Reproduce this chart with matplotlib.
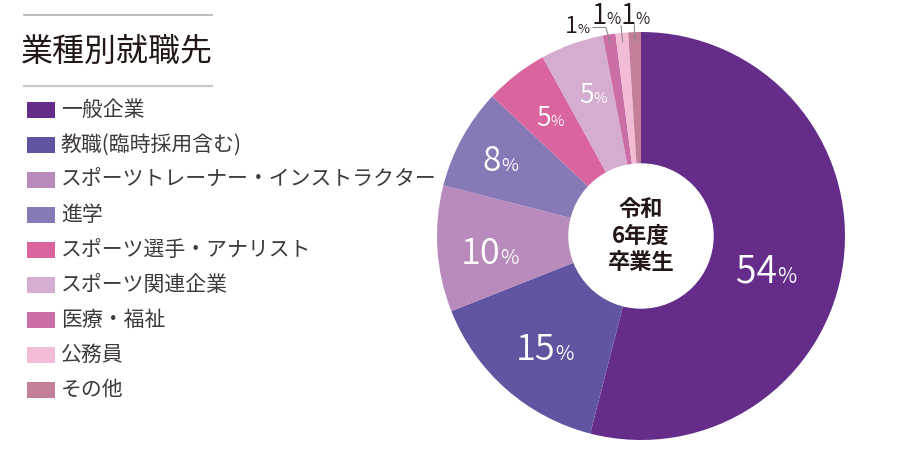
import numpy as np
import matplotlib
matplotlib.use("Agg")
from matplotlib import pyplot as plt
from matplotlib import patches
from matplotlib.offsetbox import TextArea, HPacker, AnnotationBbox

plt.rcParams['font.family'] = ['Noto Sans CJK JP', 'DejaVu Sans']

title = "業種別就職先"
center_text = "令和\n6年度\n卒業生"
categories = ["一般企業", "教職(臨時採用含む)", "スポーツトレーナー・インストラクター", "進学",
              "スポーツ選手・アナリスト", "スポーツ関連企業", "医療・福祉", "公務員", "その他"]
values = [54, 15, 10, 8, 5, 5, 1, 1, 1]
colors = ["#652d89", "#6155a1", "#b88bbc", "#8778b6", "#d9649e",
          "#d4add0", "#cc6ea6", "#f3bcd6", "#c37e9a"]

# label placement inside the pie: radius fraction, angle nudge (deg), number size
inside = {0: (0.64, -9, 27), 1: (0.73, 1, 26), 2: (0.745, 3, 26),
          3: (0.78, 1, 24), 4: (0.73, 0, 19), 5: (0.73, -1, 19)}
# small slices get outside labels with leader lines: radius, angle nudge, leader top
outside = {6: (1.075, 8.0, 1.035), 7: (1.091, 3.6, 1.035), 8: (1.079, -0.2, 1.035)}

W, H = 914, 450
fig = plt.figure(figsize=(W / 100, H / 100), dpi=100)

# pie axes: centre (641, 236) px, radius 204 px
cx, cy, R = 641, 236, 204
lim = 1.15
half = R * lim
ax = fig.add_axes([(cx - half) / W, (H - cy - half) / H, 2 * half / W, 2 * half / H])

wedges, _ = ax.pie(values, colors=colors, startangle=90, counterclock=False,
                   radius=1, wedgeprops=dict(linewidth=0))
ax.set_xlim(-lim, lim)
ax.set_ylim(-lim, lim)
ax.set_aspect('equal')
ax.axis('off')

ax.add_patch(patches.Circle((0, 0), 0.353, color='white', zorder=3))
ax.text(0, 0.0, center_text, ha='center', va='center', fontsize=16, fontweight='bold',
        color='#231815', linespacing=1.2, zorder=4)


def pct_box(x, y, num, size, color):
    a = TextArea(str(num), textprops=dict(fontsize=size, color=color, fontweight=350))
    b = TextArea('%', textprops=dict(fontsize=size * 0.56, color=color, fontweight=350))
    pack = HPacker(children=[a, b], align='baseline', pad=0, sep=0)
    ab = AnnotationBbox(pack, (x, y), frameon=False, pad=0, box_alignment=(0.5, 0.5),
                        zorder=5)
    ax.add_artist(ab)


for i, w in enumerate(wedges):
    mid = np.deg2rad((w.theta1 + w.theta2) / 2)
    if i in inside:
        r, nudge, size = inside[i]
        ang = mid + np.deg2rad(nudge)
        pct_box(r * np.cos(ang), r * np.sin(ang), values[i], size, 'white')
    else:
        r, nudge, top = outside[i]
        ang = mid + np.deg2rad(nudge)
        size = 17 if i == 6 else 20
        pct_box(r * np.cos(ang), r * np.sin(ang), values[i], size, '#231815')
        xs = [0.955 * np.cos(mid), top * np.cos(mid)]
        ys = [0.955 * np.sin(mid), top * np.sin(mid)]
        if i == 6:
            xs[1] = xs[1] - 0.01
            xs.append(xs[1] - 0.063)
            ys.append(ys[1])
        ax.plot(xs, ys, color='#8a8a8a', lw=0.8, zorder=4, clip_on=False)

# legend block on the left, in pixel coordinates
lg = fig.add_axes([0, 0, 1, 1])
lg.set_xlim(0, W)
lg.set_ylim(H, 0)
lg.axis('off')
lg.patch.set_alpha(0)

lg.plot([24, 212], [15, 15], color='#a9a9a9', lw=1.1)
lg.plot([24, 212], [86, 86], color='#c9c6c9', lw=1.6)
lg.text(21, 52, title, fontsize=23, color='#231815', va='center', ha='left')

for k, (name, col) in enumerate(zip(categories, colors)):
    yy = 110 + 35 * k
    lg.add_patch(patches.Rectangle((27, yy - 8), 28, 16, color=col, lw=0))
    lg.text(61, yy, name, fontsize=15, color='#3e3a39', va='center', ha='left')

fig.savefig("out.png", dpi=100)
